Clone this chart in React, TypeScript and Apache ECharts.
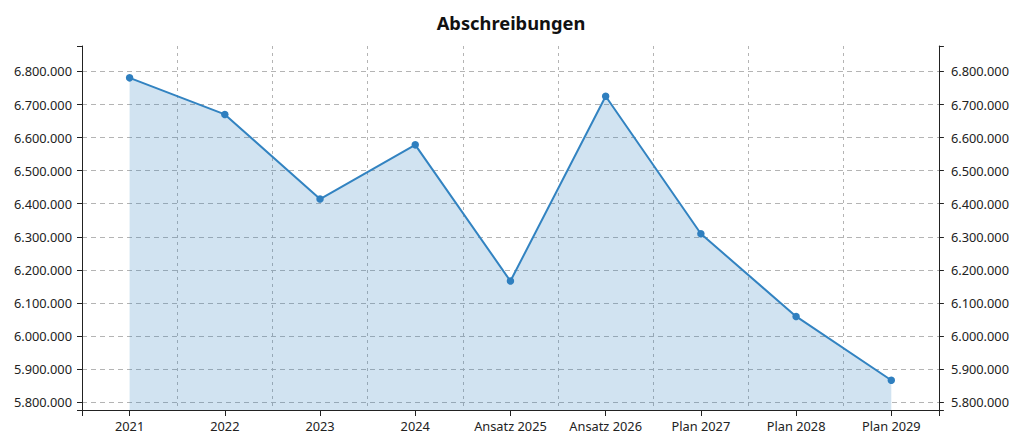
import React, { useEffect, useRef } from "react";
import * as echarts from "echarts";

const title = "Abschreibungen";
const categories = [
  "2021",
  "2022",
  "2023",
  "2024",
  "Ansatz 2025",
  "Ansatz 2026",
  "Plan 2027",
  "Plan 2028",
  "Plan 2029",
];
const values = [6780600, 6670000, 6414000, 6578000, 6166000, 6725000, 6309000, 6059000, 5866000];
const yMin = 5776000;
const yMax = 6877000;
const yStep = 100000;

const fontFamily = "'Noto Sans', 'Open Sans', sans-serif";

function fmt(v: number): string {
  if (Math.abs(v % yStep) > 1) return "";
  return String(Math.round(v)).replace(/\B(?=(\d{3})+(?!\d))/g, ".");
}

export default function App() {
  const ref = useRef<HTMLDivElement>(null);
  useEffect(() => {
    if (!ref.current) return;
    const chart = echarts.init(ref.current, undefined, { renderer: "svg" });
    const axisColor = "#222";
    const labelStyle = { color: "#222", fontSize: 12.8, fontFamily };
    chart.setOption({
      animation: false,
      graphic: [
        {
          type: "text",
          x: 511,
          y: 22,
          style: {
            text: title,
            align: "center",
            verticalAlign: "middle",
            fontSize: 18.3,
            fontWeight: "bold",
            fill: "#111",
            fontFamily,
          },
        },
      ],
      grid: { left: 82, right: 72, top: 46, bottom: 25, containLabel: false },
      xAxis: [
        {
          type: "category",
          data: categories,
          boundaryGap: true,
          position: "bottom",
          axisLine: { show: true, lineStyle: { color: axisColor, width: 1 } },
          axisTick: { show: true, alignWithLabel: true, length: 6, lineStyle: { color: axisColor } },
          axisLabel: { ...labelStyle, margin: 9, interval: 0 },
          splitLine: {
            show: true,
            lineStyle: { color: "#b4b4b4", type: [3, 4], width: 1 },
          },
        },
        {
          type: "category",
          data: [""],
          boundaryGap: true,
          position: "bottom",
          axisLine: { show: false },
          axisTick: { show: true, length: 6, lineStyle: { color: axisColor } },
          axisLabel: { show: false },
          splitLine: { show: false },
        },
      ],
      yAxis: [
        {
          type: "value",
          min: yMin,
          max: yMax,
          splitNumber: 11,
          position: "left",
          axisLine: { show: true, lineStyle: { color: axisColor, width: 1 } },
          axisTick: { show: true, length: 5, lineStyle: { color: axisColor } },
          axisLabel: { ...labelStyle, margin: 10, formatter: fmt, showMinLabel: true, showMaxLabel: true },
          splitLine: {
            show: true,
            showMinLine: false,
            showMaxLine: false,
            lineStyle: { color: "#b4b4b4", type: [5, 4], width: 1 },
          },
        },
        {
          type: "value",
          min: yMin,
          max: yMax,
          splitNumber: 11,
          position: "right",
          axisLine: { show: true, lineStyle: { color: axisColor, width: 1 } },
          axisTick: { show: true, length: 5, lineStyle: { color: axisColor } },
          axisLabel: { ...labelStyle, margin: 12, formatter: fmt },
          splitLine: { show: false },
        },
      ],
      series: [
        {
          type: "line",
          data: values,
          xAxisIndex: 0,
          yAxisIndex: 0,
          symbol: "circle",
          symbolSize: 7.5,
          lineStyle: { color: "#3283c1", width: 2 },
          itemStyle: { color: "#2f7fbf" },
          areaStyle: { color: "#2f7fbf", opacity: 0.22, origin: "start" },
        },
      ],
    });
    return () => chart.dispose();
  }, []);
  return (
    <div
      ref={ref}
      style={{ position: "fixed", left: 0, top: 0, width: 1012, height: 435, background: "#fff" }}
    />
  );
}
